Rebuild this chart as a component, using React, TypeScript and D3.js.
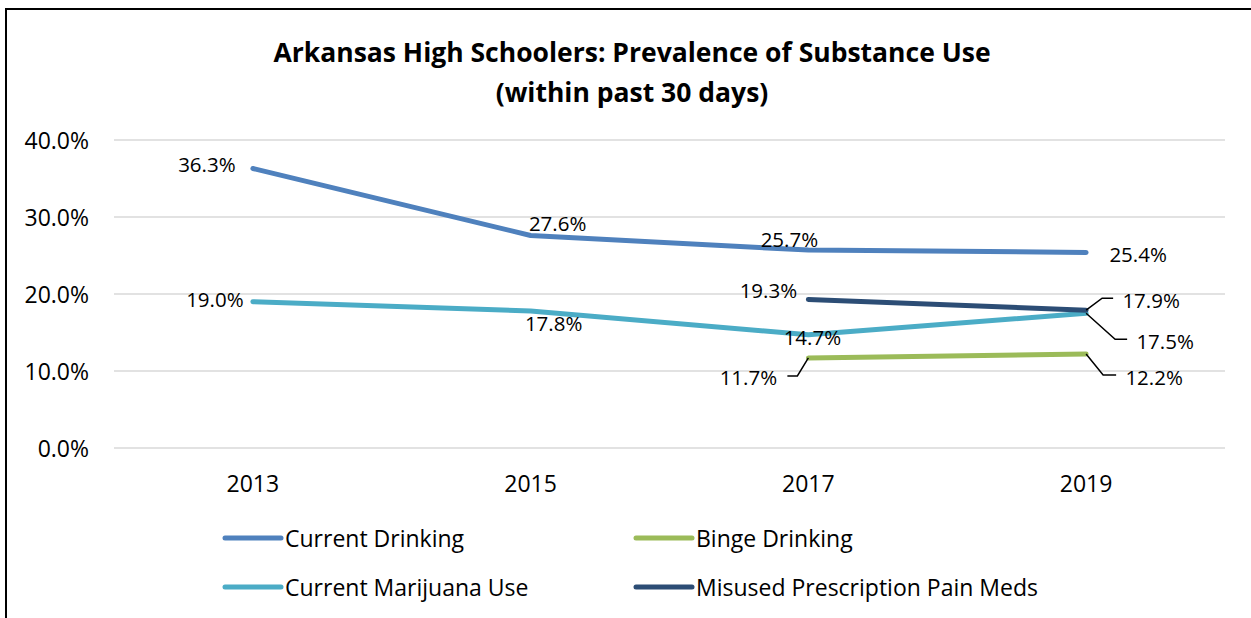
import React from 'react';
import * as d3 from 'd3';

const years = ['2013', '2015', '2017', '2019'];
const currentDrinking: (number | null)[] = [36.3, 27.6, 25.7, 25.4];
const bingeDrinking: (number | null)[] = [null, null, 11.7, 12.2];
const marijuanaUse: (number | null)[] = [19.0, 17.8, 14.7, 17.5];
const painMeds: (number | null)[] = [null, null, 19.3, 17.9];
const yTicks = [0, 10, 20, 30, 40];
const titleLines = ['Arkansas High Schoolers: Prevalence of Substance Use', '(within past 30 days)'];

type Series = {
  name: string;
  values: (number | null)[];
  color: string;
  labelOffsets: ([number, number] | null)[];
  leaders: ([number, number][] | null)[];
};

const series: Series[] = [
  {
    name: 'Current Drinking',
    values: currentDrinking,
    color: '#4F81BD',
    labelOffsets: [[-46, -4], [27, -12], [-19, -11], [52, 2]],
    leaders: [null, null, null, null],
  },
  {
    name: 'Binge Drinking',
    values: bingeDrinking,
    color: '#9BBB59',
    labelOffsets: [null, null, [-60, 19], [68, 23]],
    leaders: [null, null, [[0, 0], [-11, 18], [-21, 18]], [[0, 0], [17, 21], [30, 21]]],
  },
  {
    name: 'Current Marijuana Use',
    values: marijuanaUse,
    color: '#4BACC6',
    labelOffsets: [[-38, -3], [23, 12], [4, 2], [79, 28]],
    leaders: [null, null, null, [[0, 0], [29, 26], [41, 26]]],
  },
  {
    name: 'Misused Prescription Pain Meds',
    values: painMeds,
    color: '#2C4D75',
    labelOffsets: [null, null, [-40, -9], [65, -10]],
    leaders: [null, null, null, [[0, 0], [16, -12], [27, -12]]],
  },
];

const legendOrder = [0, 1, 2, 3];

const FONT = '"Open Sans", sans-serif';

export default function App() {
  const W = 1251;
  const H = 618;
  const left = 114;
  const right = 1225;
  const top = 140;
  const bottom = 448;

  const x = d3.scaleBand<string>().domain(years).range([left, right]).padding(0);
  const y = d3.scaleLinear().domain([0, 40]).range([bottom, top]);
  const cx = (yr: string) => (x(yr) as number) + x.bandwidth() / 2;

  const line = d3
    .line<{ yr: string; v: number | null }>()
    .defined((d) => d.v !== null)
    .x((d) => cx(d.yr))
    .y((d) => y(d.v as number));

  const legendPos = [
    [225, 538],
    [636, 538],
    [225, 587],
    [636, 587],
  ];

  return (
    <svg
      width={W}
      height={H}
      style={{ position: 'absolute', left: 0, top: 0, background: '#fff' }}
      fontFamily={FONT}
    >
      <rect x={0} y={0} width={W} height={H} fill="#fff" />
      <rect x={6} y={9} width={1400} height={800} fill="none" stroke="#000" strokeWidth={2} />

      {titleLines.map((t, i) => (
        <text
          key={i}
          x={632}
          y={52 + i * 40}
          textAnchor="middle"
          dominantBaseline="central"
          fontWeight={700}
          fontSize={26.5}
          fill="#000"
        >
          {t}
        </text>
      ))}

      {yTicks.map((t) => (
        <g key={t}>
          <line x1={left} x2={right} y1={y(t)} y2={y(t)} stroke="#D9D9D9" strokeWidth={1.5} />
          <text
            x={89}
            y={y(t)}
            textAnchor="end"
            dominantBaseline="central"
            fontSize={23}
            fill="#000"
          >
            {d3.format('.1f')(t) + '%'}
          </text>
        </g>
      ))}

      {years.map((yr) => (
        <text
          key={yr}
          x={cx(yr)}
          y={483}
          textAnchor="middle"
          dominantBaseline="central"
          fontSize={23}
          fill="#000"
        >
          {yr}
        </text>
      ))}

      {series.map((s) => (
        <path
          key={s.name}
          d={line(years.map((yr, i) => ({ yr, v: s.values[i] }))) || ''}
          fill="none"
          stroke={s.color}
          strokeWidth={5}
          strokeLinecap="round"
          strokeLinejoin="round"
        />
      ))}

      {series.map((s) =>
        years.map((yr, i) => {
          const v = s.values[i];
          const off = s.labelOffsets[i];
          if (v === null || !off) return null;
          const px = cx(yr);
          const py = y(v);
          const ld = s.leaders[i];
          return (
            <g key={s.name + yr}>
              {ld && (
                <polyline
                  points={ld.map(([a, b]) => `${px + a},${py + b}`).join(' ')}
                  fill="none"
                  stroke="#000"
                  strokeWidth={1.5}
                />
              )}
              <text
                x={px + off[0]}
                y={py + off[1]}
                textAnchor="middle"
                dominantBaseline="central"
                fontSize={20.5}
                fill="#000"
              >
                {v.toFixed(1) + '%'}
              </text>
            </g>
          );
        })
      )}

      {legendOrder.map((si, k) => {
        const s = series[si];
        const [lx, ly] = legendPos[k];
        return (
          <g key={s.name}>
            <line
              x1={lx}
              x2={lx + 56}
              y1={ly}
              y2={ly}
              stroke={s.color}
              strokeWidth={5}
              strokeLinecap="round"
            />
            <text
              x={lx + 60}
              y={ly}
              dominantBaseline="central"
              fontSize={23}
              fill="#000"
            >
              {s.name}
            </text>
          </g>
        );
      })}
    </svg>
  );
}
